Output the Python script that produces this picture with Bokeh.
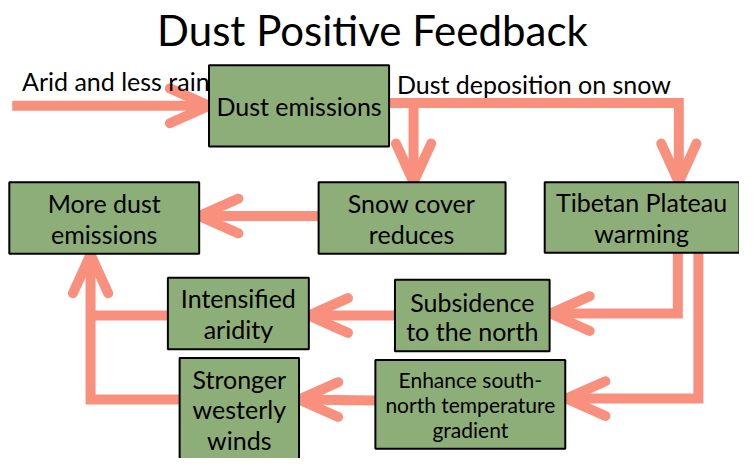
from bokeh.plotting import figure
from bokeh.models import Range1d
from bokeh.core.properties import value
from bokeh.embed import file_html
from bokeh.resources import INLINE

# ---- diagram content ----
title = "Dust Positive Feedback"

box_labels = ["Dust emissions", "Snow cover\nreduces", "Tibetan Plateau\nwarming",
              "More dust\nemissions", "Intensified\naridity", "Subsidence\nto the north",
              "Stronger\nwesterly\nwinds", "Enhance south-\nnorth temperature\ngradient"]
box_left = [213, 325, 556, 9, 171, 403, 183, 383]
box_right = [397, 516, 755, 203, 315, 561, 305, 577]
box_top = [67, 188, 188, 188, 287, 289, 370, 372]
box_bottom = [151, 262, 261, 262, 361, 363, 480, 464]
label_x = [305, 420, 655, 106, 243, 482, 244, 480]
label_y = [109, 226, 225, 226, 324, 327, 423, 418]
label_size = [25, 25, 25, 25, 25, 25, 25, 21]
label_spacing = [32, 32, 32, 32, 32, 30, 31.5, 25.5]

edge_labels = ["Arid and less rain", "Dust deposition on snow"]
edge_label_x = [22, 405]
edge_label_y = [83, 86]

shaft_xs = [[12, 213], [397, 693, 693], [422, 422], [325, 203], [692, 692, 561],
            [713, 713, 577], [403, 315], [383, 305], [171, 92], [183, 92, 92]]
shaft_ys = [[109, 109], [106, 106, 188], [106, 188], [223, 223], [261, 324, 324],
            [261, 412, 412], [326, 326], [414, 413], [326, 326], [413, 413, 262]]

head_x = [213, 693, 422, 203, 562, 578, 315, 305, 92]
head_y = [109, 188, 188, 223, 324, 412, 326, 413, 263]
head_dir = ["right", "down", "down", "left", "left", "left", "left", "left", "up"]

ARROW = "#F9907E"
BOX = "#8EAE79"

W, H = 739, 458
p = figure(width=W, height=H, x_range=Range1d(0, 755), y_range=Range1d(474, 0),
           output_backend="svg", toolbar_location=None, min_border=0)
p.axis.visible = False
p.grid.visible = False
p.outline_line_color = None
p.background_fill_color = "white"
p.border_fill_color = "white"

# shafts
p.multi_line(xs=shaft_xs, ys=shaft_ys, line_color=ARROW, line_width=10,
             line_join="miter", line_cap="butt")

# arrow heads
L, Wd = 40, 18
dirs = {"right": (1, 0), "left": (-1, 0), "down": (0, 1), "up": (0, -1)}
hx, hy = [], []
for x, y, d in zip(head_x, head_y, head_dir):
    ux, uy = dirs[d]
    px_, py_ = -uy, ux
    hx.append([x - ux * L + px_ * Wd, x, x - ux * L - px_ * Wd])
    hy.append([y - uy * L + py_ * Wd, y, y - uy * L - py_ * Wd])
p.multi_line(xs=hx, ys=hy, line_color=ARROW, line_width=10,
             line_join="miter", line_cap="round")

# boxes
p.quad(left=box_left, right=box_right, top=box_top, bottom=box_bottom,
       fill_color=BOX, line_color="black", line_width=2)

# box labels (split into lines)
tx, ty, tt, ts = [], [], [], []
for lab, cx, cy, sz, sp in zip(box_labels, label_x, label_y, label_size, label_spacing):
    lines = lab.split("\n")
    n = len(lines)
    for i, ln in enumerate(lines):
        tx.append(cx)
        ty.append(cy + (i - (n - 1) / 2) * sp)
        tt.append(ln)
        ts.append(f"{sz}px")
p.text(x=tx, y=ty, text=tt, text_font_size=ts, text_font=value("Lato"),
       text_align="center", text_baseline="middle", text_color="black")

p.text(x=edge_label_x, y=edge_label_y, text=edge_labels, text_font=value("Lato"),
       text_font_size="25px", text_align="left", text_baseline="middle",
       text_color="black")

p.text(x=[380], y=[31], text=[title], text_font=value("Lato"), text_font_size="42px",
       text_align="center", text_baseline="middle", text_color="black")

open("out.html", "w").write(file_html(p, INLINE))
